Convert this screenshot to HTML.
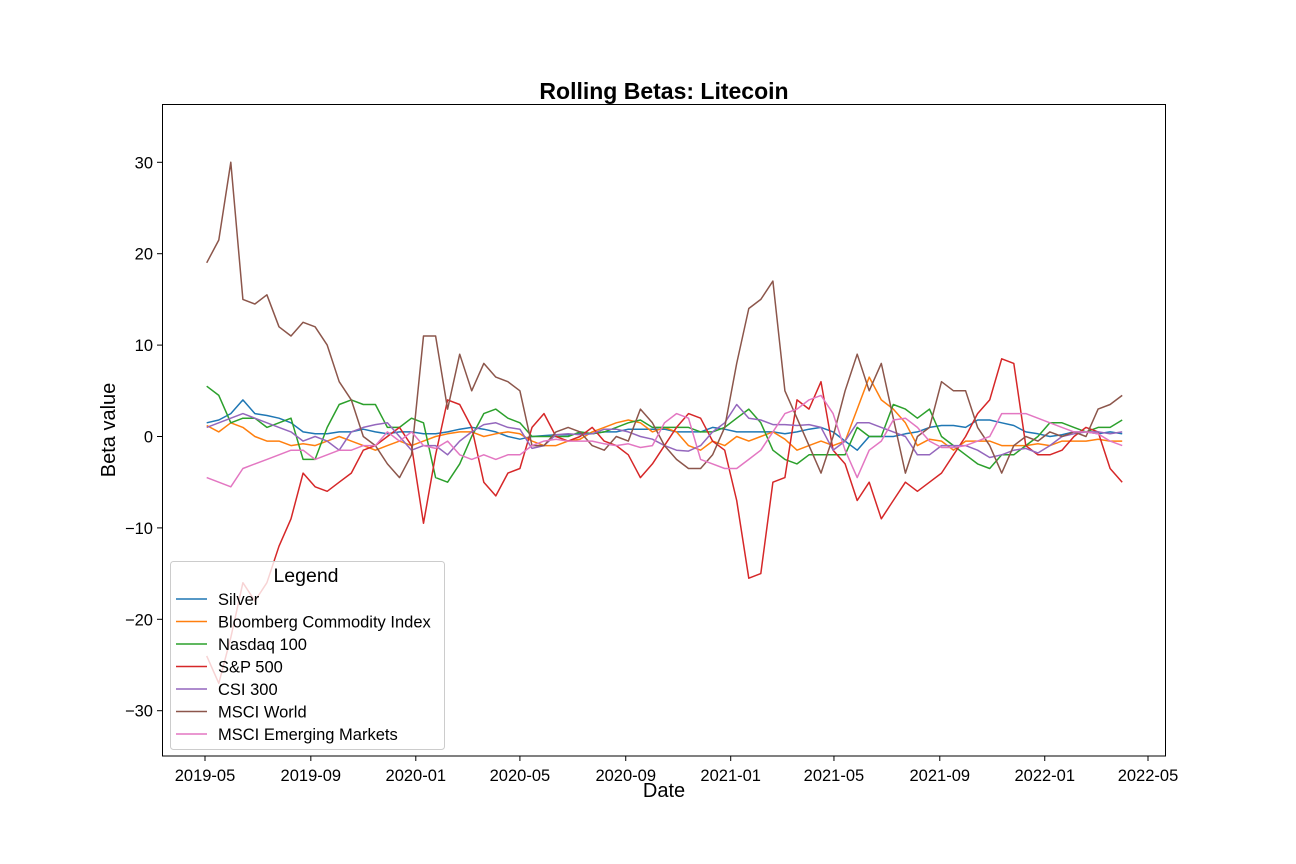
<!DOCTYPE html>
<html>
<head>
<meta charset="utf-8">
<style>
html,body{margin:0;padding:0;background:#fff;}
svg{display:block;font-family:"Liberation Sans","DejaVu Sans",sans-serif;}
</style>
</head>
<body>
<svg id="chart" width="1296" height="864" viewBox="0 0 1296 864" xmlns="http://www.w3.org/2000/svg">
  <rect x="0" y="0" width="1296" height="864" fill="#fff"/>
  <text x="664" y="99" text-anchor="middle" font-size="23" font-weight="bold">Rolling Betas: Litecoin</text>
  <g id="plot"></g>
  <rect x="162.5" y="104.5" width="1003" height="651.5" fill="none" stroke="#000" stroke-width="1"/>
  <g id="xticks"></g>
  <g id="yticks"></g>
  <text x="664" y="797" text-anchor="middle" font-size="20">Date</text>
  <text transform="translate(115,430) rotate(-90)" text-anchor="middle" font-size="20">Beta value</text>
  <g id="legend"></g>
</svg>
<script>
// ---- data (day offsets from 2019-05-01, 14-day step) ----
const dayOffsets = [];
for (let i = 0; i <= 76; i++) dayOffsets.push(i * 14);
const seriesNames = ["Silver","Bloomberg Commodity Index","Nasdaq 100","S&P 500","CSI 300","MSCI World","MSCI Emerging Markets"];
const seriesColors = ["#1f77b4","#ff7f0e","#2ca02c","#d62728","#9467bd","#8c564b","#e377c2"];
const silver = [1.5,1.8,2.5,4,2.5,2.3,2,1.5,0.5,0.3,0.3,0.5,0.5,0.8,0.5,0.3,0.5,0.5,0.3,0.3,0.5,0.8,1,0.8,0.5,0,-0.3,0,0.1,0.2,0.2,0.3,0.3,0.5,0.5,0.8,0.8,0.8,0.8,0.5,0.5,0.5,1,0.8,0.5,0.5,0.5,0.5,0.3,0.5,0.8,1,0.5,-0.5,-1.5,0,0,0,0.3,0.5,1,1.2,1.2,1,1.8,1.8,1.5,1.2,0.5,0.3,0,0.2,0.5,0.5,0.3,0.5,0.3];
const bloomberg = [1.2,0.5,1.5,1,0,-0.5,-0.5,-1,-0.8,-1,-0.5,0,-0.5,-1,-1.5,-1,-0.5,-1,-0.5,0,0.3,0.5,0.5,0,0.3,0.5,0.3,-0.5,-1,-1,-0.5,-0.3,0.5,1,1.5,1.8,1.5,0.5,1,0.5,-1,-1.5,-0.5,-1,0,-0.5,0,0.5,-0.3,-1.5,-1,-0.5,-1,-0.5,3,6.5,4,3,1.5,-1,-0.3,-0.5,-1.5,-0.5,-0.5,-0.5,-1,-1,-1,-0.8,-1,-0.5,-0.5,-0.5,-0.3,-0.5,-0.5];
const nasdaq = [5.5,4.5,1.5,2,2,1,1.5,2,-2.5,-2.5,1,3.5,4,3.5,3.5,1,1,2,1.5,-4.5,-5,-3,0,2.5,3,2,1.5,0,0,0,0,0.5,0.3,0.5,1,1.5,1.8,1,1,1,1,0.5,0.5,1,2,3,1.5,-1.5,-2.5,-3,-2,-2,-2,-2,1,0,0,3.5,3,2,3,0,-1,-2,-3,-3.5,-2,-2,-1,0,1.5,1.5,1,0.5,1,1,1.8];
const sp500 = [-24,-27,-22,-16,-18,-16,-12,-9,-4,-5.5,-6,-5,-4,-1.5,-1,0,1,-1,-9.5,-2,4,3.5,1,-5,-6.5,-4,-3.5,1,2.5,0,-0.5,0,1,-0.5,-1,-2,-4.5,-3,-1,1,2.5,2,-0.5,-1.5,-7,-15.5,-15,-5,-4.5,4,3,6,-1.5,-3,-7,-5,-9,-7,-5,-6,-5,-4,-2,0,2.5,4,8.5,8,-1,-2,-2,-1.5,0,1,0.5,-3.5,-5];
const csi300 = [1,1.5,2,2.5,2,1.5,1,0.5,-0.5,0,-0.5,-1.5,0.5,1,1.3,1.5,0,-1.5,-1,-1,-2,-0.5,0.5,1.3,1.5,1,0.8,-1.3,-1,0.2,0.3,0.2,0.3,0.8,0.8,0.5,0,-0.3,-1,-1.5,-1.6,-1,0.5,1.5,3.5,2,1.8,1.3,1.3,1.2,1.3,1,-1.5,-0.5,1.5,1.5,1,0.5,0,-2,-2,-1,-1,-1,-1.5,-2.3,-2,-1.5,-1.3,-1.8,-1,0,0.3,0.5,0.5,0.3,0.5];
const msciWorld = [19,21.5,30,15,14.5,15.5,12,11,12.5,12,10,6,4,0,-1,-3,-4.5,-2,11,11,3,9,5,8,6.5,6,5,-1,-1,0.5,1,0.5,-1,-1.5,0,-0.5,3,1.5,-1,-2.5,-3.5,-3.5,-2,1,8,14,15,17,5,2,-1,-4,0,5,9,5,8,2,-4,0,1,6,5,5,1,-1,-4,-1,0,-0.5,0.5,0,0.5,0,3,3.5,4.5];
const msciEM = [-4.5,-5,-5.5,-3.5,-3,-2.5,-2,-1.5,-1.5,-2.5,-2,-1.5,-1.5,-1,-1,0.5,-0.5,0.5,-1,-1.3,-0.5,-2,-2.5,-2,-2.5,-2,-2,-1,-0.5,-0.3,-0.5,-0.5,-0.5,-0.8,-1,-0.8,-1.2,-1,1.5,2.5,2,-2.5,-3,-3.5,-3.5,-2.5,-1.5,0.5,2.5,3,4,4.5,2.5,-1.5,-4.5,-1.5,-0.5,1.8,2,1,-0.5,-1.2,-1.2,-1,-0.5,0,2.5,2.5,2.5,2,1.5,1,0.5,0.5,0.3,-0.5,-1];
const xTickLabels = ["2019-05","2019-09","2020-01","2020-05","2020-09","2021-01","2021-05","2021-09","2022-01","2022-05"];
const xTickDays = [0,123,245,366,489,611,731,854,976,1096];
const yTickValues = [-30,-20,-10,0,10,20,30];

// ---- axis functions ----
const xScale = d => 205 + d * 0.8604;
const yScale = v => 436.5 - v * 9.14;

const NS = "http://www.w3.org/2000/svg";
const plot = document.getElementById("plot");
const allSeries = [silver, bloomberg, nasdaq, sp500, csi300, msciWorld, msciEM];
const seriesKeys = ["silver","bloomberg-commodity-index","nasdaq-100","sp-500","csi-300","msci-world","msci-emerging-markets"];
allSeries.forEach((vals, s) => {
  const pts = vals.map((v, i) => xScale(dayOffsets[i] + 2).toFixed(1) + "," + yScale(v).toFixed(1)).join(" ");
  const pl = document.createElementNS(NS, "polyline");
  pl.setAttribute("points", pts);
  pl.setAttribute("fill", "none");
  pl.setAttribute("stroke", seriesColors[s]);
  pl.setAttribute("stroke-width", "1.5");
  pl.setAttribute("stroke-linejoin", "round");
  
  
  plot.appendChild(pl);
});

const xt = document.getElementById("xticks");
xTickLabels.forEach((lab, i) => {
  const x = xScale(xTickDays[i]);
  const ln = document.createElementNS(NS, "line");
  ln.setAttribute("x1", x); ln.setAttribute("x2", x);
  ln.setAttribute("y1", 756); ln.setAttribute("y2", 761);
  ln.setAttribute("stroke", "#000");
  
  
  xt.appendChild(ln);
  const t = document.createElementNS(NS, "text");
  t.setAttribute("x", x); t.setAttribute("y", 781);
  t.setAttribute("text-anchor", "middle");
  t.setAttribute("font-size", "16.5");
  t.textContent = lab;
  
  
  xt.appendChild(t);
});
const yt = document.getElementById("yticks");
yTickValues.forEach(v => {
  const y = yScale(v);
  const ln = document.createElementNS(NS, "line");
  ln.setAttribute("x1", 157); ln.setAttribute("x2", 162);
  ln.setAttribute("y1", y); ln.setAttribute("y2", y);
  ln.setAttribute("stroke", "#000");
  
  
  yt.appendChild(ln);
  const t = document.createElementNS(NS, "text");
  t.setAttribute("x", 153); t.setAttribute("y", y + 6);
  t.setAttribute("text-anchor", "end");
  t.setAttribute("font-size", "16.5");
  t.textContent = v < 0 ? "\u2212" + Math.abs(v) : String(v);
  
  
  yt.appendChild(t);
});

const lg = document.getElementById("legend");
const box = document.createElementNS(NS, "rect");
box.setAttribute("x", 170.5); box.setAttribute("y", 561.5);
box.setAttribute("width", 274); box.setAttribute("height", 188);
box.setAttribute("rx", 3);
box.setAttribute("fill", "rgba(255,255,255,0.8)");
box.setAttribute("stroke", "#cccccc");


lg.appendChild(box);
const title = document.createElementNS(NS, "text");
title.setAttribute("x", 306); title.setAttribute("y", 582);
title.setAttribute("text-anchor", "middle");
title.setAttribute("font-size", "19.5");
title.textContent = "Legend";


lg.appendChild(title);
seriesNames.forEach((n, i) => {
  const y = 599 + i * 22.5;
  const ln = document.createElementNS(NS, "line");
  ln.setAttribute("x1", 176); ln.setAttribute("x2", 207);
  ln.setAttribute("y1", y); ln.setAttribute("y2", y);
  ln.setAttribute("stroke", seriesColors[i]);
  ln.setAttribute("stroke-width", "1.5");
  
  
  lg.appendChild(ln);
  const t = document.createElementNS(NS, "text");
  t.setAttribute("x", 218); t.setAttribute("y", y + 6);
  t.setAttribute("font-size", "16.5");
  t.textContent = n;
  
  
  lg.appendChild(t);
});
</script>
</body>
</html>
